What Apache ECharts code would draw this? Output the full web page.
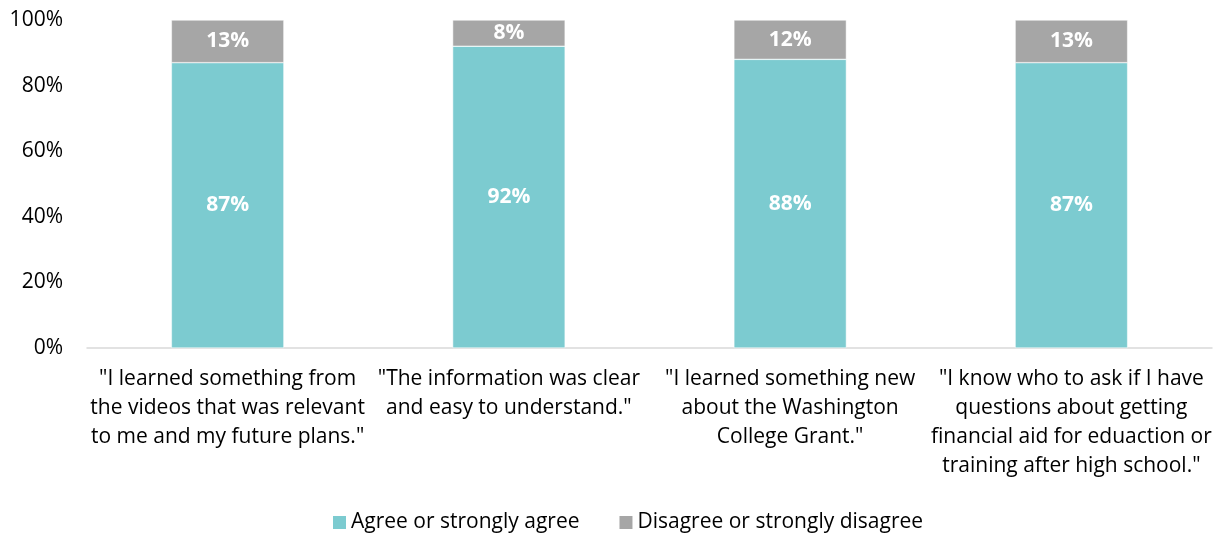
<!DOCTYPE html>
<html>
<head>
<meta charset="utf-8">
<script src="https://cdn.jsdelivr.net/npm/echarts@6/dist/echarts.min.js"></script>
<style>
  html, body { margin: 0; padding: 0; background: #fff; }
  #chart { width: 1220px; height: 538px; }
</style>
</head>
<body>
<div id="chart"></div>
<script>
    // 数据
    var categories = [
        '"I learned something from\nthe videos that was relevant\nto me and my future plans."',
        '"The information was clear\nand easy to understand."',
        '"I learned something new\nabout the Washington\nCollege Grant."',
        '"I know who to ask if I have\nquestions about getting\nfinancial aid for eduaction or\ntraining after high school."'
    ];
    var agreeValues = [87, 92, 88, 87];
    var disagreeValues = [13, 8, 12, 13];
    var yTicks = [0, 20, 40, 60, 80, 100];

    var fontFam = '"Open Sans", Lato, sans-serif';

    var myChart = echarts.init(document.getElementById('chart'));
    var option = {
        animation: false,
        textStyle: { fontFamily: fontFam },
        grid: { left: 87, right: 8, top: 20, bottom: 190 },
        legend: {
            bottom: 0,
            left: 328,
            itemWidth: 13,
            itemHeight: 13,
            itemGap: 40,
            itemStyle: { borderWidth: 0 },
            icon: 'rect',
            textStyle: { fontSize: 21, color: '#000', fontFamily: fontFam },
            data: ['Agree or strongly agree', 'Disagree or strongly disagree']
        },
        xAxis: {
            type: 'category',
            data: categories,
            axisTick: { show: false },
            axisLine: { lineStyle: { color: '#d9d9d9', width: 1.5 } },
            axisLabel: {
                interval: 0,
                color: '#000',
                fontSize: 21,
                lineHeight: 29,
                margin: 17,
                fontFamily: fontFam
            }
        },
        yAxis: {
            type: 'value',
            min: 0,
            max: 100,
            interval: 20,
            splitLine: { show: false },
            axisLabel: {
                color: '#000',
                fontSize: 21,
                margin: 24,
                fontFamily: fontFam,
                formatter: function (v) {
                    return yTicks.indexOf(v) >= 0 ? v + '%' : '';
                }
            }
        },
        series: [
            {
                name: 'Agree or strongly agree',
                type: 'bar',
                stack: 'total',
                barWidth: '40%',
                data: agreeValues,
                itemStyle: { color: '#7ccbd0', borderColor: '#fff', borderWidth: 0.5 },
                label: {
                    show: true,
                    position: 'inside',
                    color: '#fff',
                    fontWeight: 'bold',
                    fontSize: 21,
                    fontFamily: fontFam,
                    formatter: '{c}%'
                }
            },
            {
                name: 'Disagree or strongly disagree',
                type: 'bar',
                stack: 'total',
                barWidth: '40%',
                data: disagreeValues,
                itemStyle: { color: '#a6a6a6', borderColor: '#fff', borderWidth: 0.5 },
                label: {
                    show: true,
                    position: 'inside',
                    color: '#fff',
                    fontWeight: 'bold',
                    fontSize: 21,
                    fontFamily: fontFam,
                    formatter: '{c}%'
                }
            }
        ]
    };
    myChart.setOption(option);
</script>
</body>
</html>
